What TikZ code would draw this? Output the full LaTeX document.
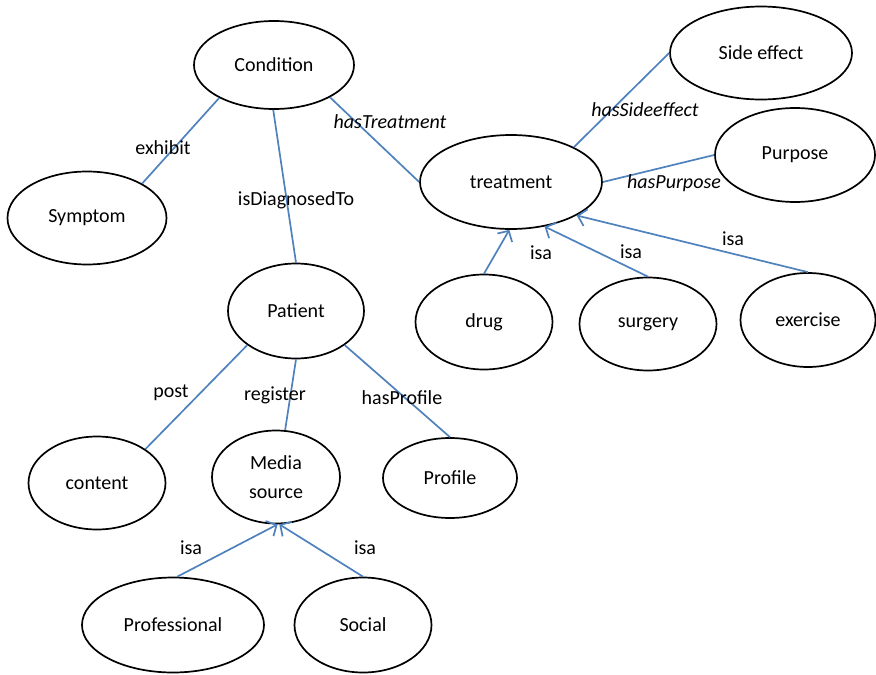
\documentclass[tikz,border=0pt]{standalone}
\usepackage{fontspec}
\setmainfont{Carlito}
\usetikzlibrary{arrows.meta,shapes.geometric}
\definecolor{linkblue}{RGB}{79,129,189}
\tikzset{concept/.style={ellipse,draw=black,line width=1.7pt,inner sep=0pt,align=center,font=\fontsize{20}{29}\selectfont}}
\tikzset{relLine/.style={draw=linkblue,line width=1.7pt}}
\tikzset{isaArrow/.style={relLine,-{Straight Barb[length=8pt,width=17pt,line width=1.7pt]}}}
\tikzset{relLabel/.style={inner sep=0pt,font=\fontsize{20}{24}\selectfont}}
\tikzset{propLabel/.style={inner sep=0pt,font=\fontsize{20}{24}\selectfont\itshape}}

\begin{document}
\begin{tikzpicture}[x=1pt,y=-1pt]
\useasboundingbox (0,0) rectangle (876,675);
% concepts
\node (cond)   [concept,minimum width=160pt,minimum height=88pt] at (274,65)  {Condition};
\node (sym)    [concept,minimum width=159pt,minimum height=93pt] at (87,218)  {Symptom};
\node (pat)    [concept,minimum width=136pt,minimum height=95pt] at (296,311) {Patient};
\node (cont)   [concept,minimum width=137pt,minimum height=93pt] at (97,483)  {content};
\node (media)  [concept,minimum width=128pt,minimum height=93pt] at (276,477) {Media\\source};
\node (prof)   [concept,minimum width=134pt,minimum height=80pt] at (450,478) {Profile};
\node (profnl) [concept,minimum width=182pt,minimum height=95pt] at (173,625) {Professional};
\node (social) [concept,minimum width=137pt,minimum height=95pt] at (363,625) {Social};
\node (treat)  [concept,minimum width=182pt,minimum height=94pt] at (511,182) {treatment};
\node (side)   [concept,minimum width=182pt,minimum height=93pt] at (761,53)  {Side effect};
\node (purp)   [concept,minimum width=160pt,minimum height=94pt] at (795,155) {Purpose};
\node (drug)   [concept,minimum width=137pt,minimum height=95pt] at (484,322) {drug};
\node (surg)   [concept,minimum width=137pt,minimum height=93pt] at (648,324) {surgery};
\node (exer)   [concept,minimum width=135pt,minimum height=94pt] at (808,320) {exercise};

% relations
\draw [relLine] (cond.211) -- (sym.32);
\draw [relLine] (cond.269) -- (pat.90);
\draw [relLine] (cond.330) -- (treat.180);
\draw [relLine] (treat.29) -- (side.180);
\draw [relLine] (treat.0) -- (purp.180);
\draw [relLine] (pat.215) -- (cont.35);
\draw [relLine] (pat.270) -- (media.79);
\draw [relLine] (pat.325) -- (prof.90);
\draw [isaArrow] (drug.90) -- (treat.268);
\draw [isaArrow] (surg.90) -- (treat.307);
\draw [isaArrow] (exer.90) -- (treat.333);
\draw [isaArrow] (profnl.85) -- (media.272);
\draw [isaArrow] (social.90) -- (media.274);

% labels
\node (lExhibit)  [relLabel]  at (163,148) {exhibit};
\node (lDiag)     [relLabel]  at (296,200) {isDiagnosedTo};
\node (lTreat)    [propLabel] at (390,122) {hasTreatment};
\node (lSide)     [propLabel] at (645,110) {hasSideeffect};
\node (lPurp)     [propLabel] at (674,183) {hasPurpose};
\node (lIsaDrug)  [relLabel]  at (541,253) {isa};
\node (lIsaSurg)  [relLabel]  at (631,252) {isa};
\node (lIsaExer)  [relLabel]  at (733,239) {isa};
\node (lPost)     [relLabel]  at (171,393) {post};
\node (lReg)      [relLabel]  at (275,395) {register};
\node (lProf)     [relLabel]  at (402,398) {hasProfile};
\node (lIsaPro)   [relLabel]  at (191,548) {isa};
\node (lIsaSoc)   [relLabel]  at (365,548) {isa};
\end{tikzpicture}
\end{document}
